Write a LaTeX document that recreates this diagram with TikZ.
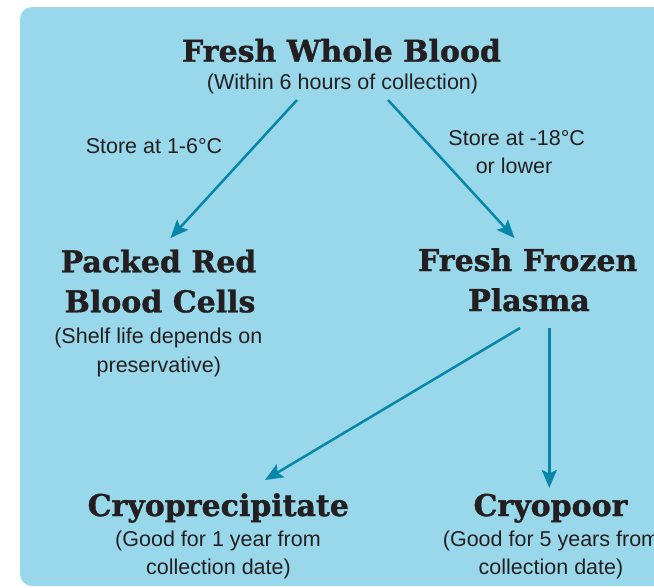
\documentclass[tikz,border=0pt]{standalone}
\usepackage{fontspec}
\setmainfont{Liberation Sans}
\newfontfamily\titlefont{DejaVu Serif Bold}[FakeBold=1.2]
\usetikzlibrary{arrows.meta}
\definecolor{bgblue}{RGB}{153,216,234}
\definecolor{arrowteal}{RGB}{8,134,168}
\definecolor{inkdark}{RGB}{35,31,32}
\tikzset{
  ttl/.style={anchor=base, inner sep=0pt, text=inkdark, font=\titlefont\fontsize{30}{36}\selectfont},
  sub/.style={anchor=base, inner sep=0pt, text=inkdark, font=\fontsize{21.5}{26}\selectfont},
  flow/.style={draw=arrowteal, line width=2.5pt, -{Stealth[length=18pt,width=15pt,inset=3.5pt]}}
}
\begin{document}
\begin{tikzpicture}[x=1pt,y=-1pt]
\useasboundingbox (0,0) rectangle (654,587);
\clip (0,0) rectangle (654,587);
\fill[bgblue, rounded corners=12pt] (20,7) rectangle (720,586);

% top
\node[ttl] (fwb) at (341.5,61.7) {Fresh Whole Blood};
\node[sub] (fwbs) at (342.5,89) {(Within 6 hours of collection)};

% store labels
\node[sub] (st1) at (154,153.3) {Store at 1-6°C};
\node[sub] (st2a) at (516.7,145) {Store at -18°C};
\node[sub] (st2b) at (514,173.3) {or lower};

% packed red
\node[ttl] (prb1) at (158.5,272.3) {Packed Red};
\node[ttl] (prb2) at (160,312.3) {Blood Cells};
\node[sub] (prbs1) at (158.3,343.3) {(Shelf life depends on};
\node[sub] (prbs2) at (158.8,372.3) {preservative)};

% fresh frozen plasma
\node[ttl] (ffp1) at (527.7,271) {Fresh Frozen};
\node[ttl] (ffp2) at (529,311) {Plasma};

% cryo
\node[ttl] (cry1) at (218.3,516) {Cryoprecipitate};
\node[sub] (crys1) at (218,546.7) {(Good for 1 year from};
\node[sub] (crys2) at (218.5,574) {collection date)};

\node[ttl] (cpr1) at (550.5,516) {Cryopoor};
\node[sub] (cprs1) at (551,546.7) {(Good for 5 years from};
\node[sub] (cprs2) at (551,574) {collection date)};

% connector end points
\coordinate (a1s) at (297,100);
\coordinate (a1e) at (170.5,238);
\coordinate (a2s) at (388,100);
\coordinate (a2e) at (514.5,238);
\coordinate (a3s) at (520,328);
\coordinate (a3e) at (265,480);
\coordinate (a4s) at (549.3,328);
\coordinate (a4e) at (549.3,488);

\draw[flow] (a1s) -- (a1e);
\draw[flow] (a2s) -- (a2e);
\draw[flow] (a3s) -- (a3e);
\draw[flow] (a4s) -- (a4e);
\end{tikzpicture}
\end{document}
